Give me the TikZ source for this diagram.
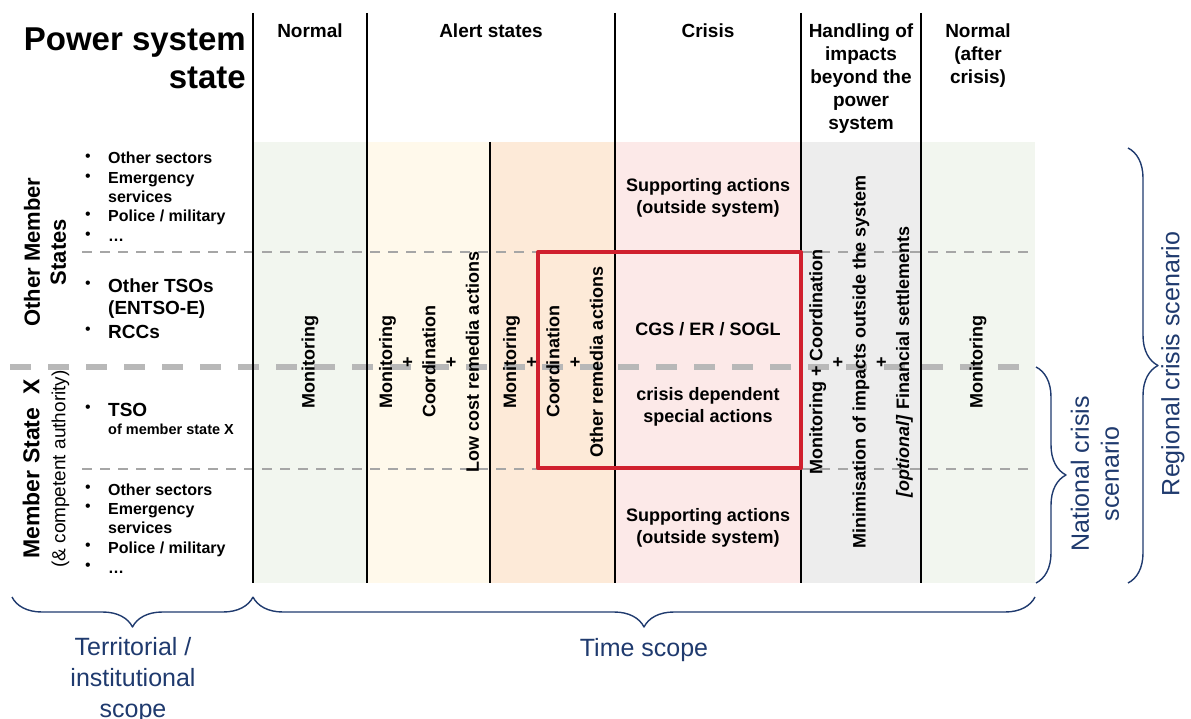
\documentclass[tikz,border=0pt]{standalone}
\usepackage{fontspec}
\setmainfont{Liberation Sans}
\usetikzlibrary{decorations.pathreplacing}
\definecolor{bgnormal}{HTML}{F2F6EF}
\definecolor{bgalerta}{HTML}{FFF9EB}
\definecolor{bgalertb}{HTML}{FDEAD8}
\definecolor{bgcrisis}{HTML}{FCE9E8}
\definecolor{bghandle}{HTML}{EDEDED}
\definecolor{framered}{HTML}{D0202E}
\definecolor{scopeblue}{HTML}{1F3A6E}
\definecolor{dashgray}{HTML}{A6A6A6}
\definecolor{middash}{HTML}{B8B8B8}
\newcommand{\fsz}[2]{\fontsize{#1}{#2}\selectfont}
\begin{document}
\begin{tikzpicture}[x=1pt,y=-1pt,line join=round,font=\bfseries\fsz{18}{22}]
\tikzset{every node/.style={inner sep=0pt},
  colline/.style={line width=1.5pt},
  thindash/.style={dashgray,line width=2.2pt,dash pattern=on 10pt off 8pt},
  thickdash/.style={middash,line width=6pt,dash pattern=on 21pt off 17pt},
  hdr/.style={anchor=north,align=center,font=\bfseries\fsz{19}{23}},
  vtxt/.style={rotate=90,align=center,font=\bfseries\fsz{18}{21.7}},
  ctxt/.style={align=center,font=\bfseries\fsz{18}{22}},
  lstitem/.style={anchor=base west,font=\bfseries\fsz{16}{19}},
  bigitem/.style={anchor=base west,font=\bfseries\fsz{19}{23}},
  bul/.style={font=\fsz{16}{16}},
  sidelbl/.style={rotate=90,align=center,font=\bfseries\fsz{22}{26}},
  scopelbl/.style={scopeblue,align=center,font=\mdseries\fsz{25}{31}},
  brc/.style={scopeblue,line width=1.4pt,decorate,decoration={brace,amplitude=30pt}}}
\useasboundingbox (0,0) rectangle (1191,719);
\foreach \a/\b/\c in {253/367/bgnormal,367/490/bgalerta,490/615/bgalertb,615/801/bgcrisis,801/921/bghandle,921/1035/bgnormal}
  \fill[\c] (\a,142) rectangle (\b,583);
\draw[thindash] (82,252) -- (1035,252);
\draw[thindash] (82,469) -- (1035,469);
\draw[thickdash] (10,367) -- (1035,367);
\foreach \x in {253,367,615,801,921}
  \draw[colline] (\x,13) -- (\x,583);
\draw[colline] (490,142) -- (490,583);
\draw[framered,line width=4pt] (538,252) rectangle (801,468);

\node[anchor=north east,align=right,font=\bfseries\fsz{33}{38}] (title) at (246,28) {Power system\\state};
\node[hdr] (hnormal) at (310,24) {Normal};
\node[hdr] (halert) at (491,24) {Alert states};
\node[hdr] (hcrisis) at (708,24) {Crisis};
\node[hdr] (hhandle) at (861,24) {Handling of\\impacts\\beyond the\\power\\system};
\node[hdr] (hafter) at (978,24) {Normal\\(after\\crisis)};

\node[sidelbl] (oms) at (45,252) {Other Member\\States};
\node[sidelbl,font=\bfseries\fsz{23}{26}] (msx) at (46,469) {Member State\ \ X\\{\mdseries\fsz{19}{22}(\& competent authority)}};

\foreach \y/\t in {164/Other sectors,184/Emergency,203/services,222/{Police / military},242/\dots,
  495/Other sectors,514/Emergency,533/services,553/{Police / military},573/\dots}
  \node[lstitem] (t\y) at (108,\y) {\t};
\foreach \y in {158,178,216,236,489,508,547,567}
  \node[bul] (b\y) at (88,\y) {•};
\foreach \y/\t in {292/Other TSOs,315/(ENTSO-E),338/RCCs,416/TSO}
  \node[bigitem] (t\y) at (108,\y) {\t};
\foreach \y in {285,331,409}
  \node[bul] (b\y) at (88,\y) {•};
\node[anchor=base west,font=\bfseries\fsz{14.5}{17}] (tsox) at (108,434) {of member state X};

\node[vtxt] (monA) at (310,362) {Monitoring};
\node[vtxt] (alertA) at (429,362) {Monitoring\\+\\Coordination\\+\\Low cost remedia actions};
\node[vtxt] (alertB) at (553,362) {Monitoring\\+\\Coordination\\+\\Other remedia actions};
\node[vtxt] (handle) at (861,362) {Monitoring + Coordination\\+\\Minimisation of impacts outside the system\\+\\\textit{[optional]} Financial settlements};
\node[vtxt] (monB) at (978,362) {Monitoring};

\node[ctxt] (supA) at (708,198) {Supporting actions\\(outside system)};
\node[ctxt] (cgs) at (708,329) {CGS / ER / SOGL};
\node[ctxt] (special) at (708,407) {crisis dependent\\special actions};
\node[ctxt] (supB) at (708,528) {Supporting actions\\(outside system)};

\draw[brc] (1036,367) -- (1036,583);
\draw[brc] (1128,148) -- (1128,583);
\draw[brc] (253,597) -- (12,597);
\draw[brc] (1035,597) -- (253,597);

\node[scopelbl,rotate=90,font=\mdseries\fsz{25}{30}] (natl) at (1095,474) {National crisis\\scenario};
\node[scopelbl,rotate=90] (regl) at (1173,364) {Regional crisis scenario};
\node[scopelbl] (terr) at (133,680) {Territorial /\\institutional\\scope};
\node[scopelbl] (time) at (644,650) {Time scope};
\end{tikzpicture}
\end{document}
